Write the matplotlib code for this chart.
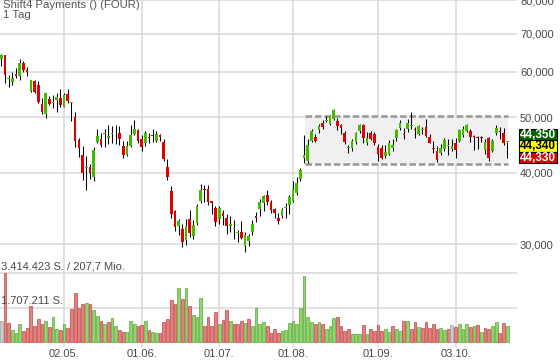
import matplotlib
matplotlib.use("Agg")
import matplotlib.pyplot as plt
import numpy as np
from matplotlib.ticker import FixedLocator, NullLocator
from matplotlib.patches import Rectangle

plt.rcParams['font.family'] = ['Liberation Sans', 'DejaVu Sans']
plt.rcParams['lines.scale_dashes'] = False

title = "Shift4 Payments () (FOUR)"
subtitle = "1 Tag"
date_labels = ["02.05.", "01.06.", "01.07.", "01.08.", "01.09.", "03.10."]
date_idx = [17, 38, 59, 79, 102, 123]
price_ticks = [30000, 40000, 50000, 60000, 70000, 80000]
price_tick_labels = ["30,000", "40,000", "50,000", "60,000", "70,000", "80,000"]

open_ = [63300, 64240, 58300, 57520, 59610, 58960, 62100, 60420, 55670, 57760,
         56820, 52740, 50760, 53750, 52890, 53600, 54040, 52160, 54990, 53050,
         50000, 45700, 42990, 40850, 40980, 39340, 45330, 45890, 46750, 45940,
         46750, 47350, 46970, 44590, 43040, 44600, 46780, 47410, 45830, 45010,
         46210, 46580, 45510, 46510, 45330, 40930, 37110, 34230, 32250, 31940,
         30500, 33230, 31030, 32730, 35770, 37370, 37520, 35660, 34660, 33190,
         34050, 33400, 32330, 31900, 31380, 31510, 29800, 30410, 31510, 33640,
         34510, 35480, 36510, 35620, 34510, 33400, 33640, 34720, 35090, 35770,
         36810, 38970, 42460, 41940, 45380, 46260, 47550, 48930, 49330, 48590,
         49590, 49330, 48450, 46970, 44100, 44180, 45200, 47220, 48390, 45010,
         46970, 46780, 44280, 44100, 42810, 43210, 44180, 45940, 47860, 46780,
         47610, 48190, 47610, 46830, 47550, 48000, 46130, 44100, 43690, 43390,
         43990, 44460, 43990, 45090, 45510, 46580, 47280, 47280, 46300, 46070,
         46130, 43870, 45940, 43690, 46890, 47220, 46970, 45300]
high = [64420, 64300, 59370, 59930, 61020, 63300, 62610, 61270, 58160, 58160,
        57850, 54110, 55220, 54480, 54700, 55080, 55990, 55220, 55990, 53170,
        51030, 46020, 44590, 42760, 41490, 44280, 47740, 46890, 47740, 48530,
        48190, 48390, 48190, 45380, 45380, 48530, 49530, 47740, 46640, 47220,
        46890, 47740, 47220, 46780, 45830, 42340, 37870, 34370, 33270, 32520,
        33270, 34420, 33050, 35230, 38180, 38130, 38130, 35700, 35040, 35040,
        34430, 33870, 33600, 33050, 31810, 32950, 31510, 31290, 33130, 34190,
        35960, 36610, 37260, 35870, 34760, 33960, 34760, 35380, 36610, 38650,
        39290, 40820, 46600, 45830, 47610, 46780, 48730, 49530, 50200, 50560,
        51660, 49940, 48730, 47220, 44770, 45830, 47080, 48730, 48730, 47080,
        47220, 47080, 44900, 44770, 44770, 45640, 45830, 47740, 49390, 47860,
        49730, 51100, 48060, 48390, 48060, 49730, 46780, 45510, 44460, 44900,
        45940, 45830, 45830, 46020, 47610, 48250, 48730, 47610, 46580, 46450,
        46450, 45830, 46130, 45830, 48390, 48060, 47860, 45350]
low = [61420, 57450, 56450, 56910, 58570, 57990, 59930, 59130, 55450, 55080,
       52890, 50620, 49860, 52460, 51810, 51100, 52030, 52030, 52890, 49330,
       44280, 42690, 38860, 37310, 39020, 38650, 45050, 44280, 44410, 44900,
       45010, 44900, 44720, 42510, 42810, 44410, 46580, 45090, 43690, 44590,
       45010, 45200, 45330, 45380, 41940, 38860, 33360, 31600, 31160, 29720,
       29920, 30870, 30580, 32460, 35380, 35620, 35140, 33820, 32250, 32600,
       32380, 31220, 31510, 30660, 30250, 30660, 29040, 29800, 31090, 32820,
       33600, 34330, 35140, 33960, 33400, 32520, 33360, 33400, 33820, 35520,
       36610, 38650, 41520, 41650, 45200, 45200, 46890, 47740, 49050, 48390,
       49390, 47550, 46780, 44900, 43280, 43690, 44900, 46970, 45090, 44720,
       45640, 44720, 41940, 42240, 42510, 42930, 43690, 45510, 47410, 45830,
       47040, 47610, 45940, 46640, 46780, 46130, 45090, 43390, 41770, 42930,
       43690, 42930, 43690, 42510, 45200, 46130, 47080, 45330, 43870, 43990,
       45200, 43100, 41940, 43510, 46640, 45830, 44720, 42510]
close = [64240, 59370, 58400, 58640, 59130, 62100, 60420, 60100, 57990, 55450,
         53230, 51030, 55080, 52740, 52960, 54260, 52520, 54770, 53450, 53100,
         45380, 44100, 39890, 40900, 39980, 43870, 46450, 44650, 46780, 46320,
         46780, 47220, 45750, 43040, 44590, 46640, 47740, 45510, 44410, 46970,
         46080, 46450, 46830, 46130, 42340, 39290, 33820, 32120, 32960, 30290,
         32290, 31380, 32420, 35040, 37380, 37260, 35620, 35370, 32820, 34760,
         33640, 32290, 32520, 32030, 31410, 30780, 31160, 31000, 32550, 33360,
         35620, 36360, 35520, 34430, 34050, 32910, 34370, 34760, 36210, 37520,
         38380, 40380, 42950, 44770, 47280, 45510, 48190, 48060, 49390, 50270,
         51390, 48190, 47860, 45330, 44180, 45380, 46890, 48530, 46020, 46080,
         45830, 45010, 43210, 42510, 43510, 45090, 44770, 47550, 48850, 46640,
         48850, 48250, 47470, 48190, 47610, 46450, 45150, 43990, 42060, 44100,
         45700, 44530, 44530, 43870, 47410, 47610, 48390, 46130, 46200, 45940,
         46020, 45330, 42510, 45510, 47860, 47080, 45010, 45330]
volume_mio = [1.03, 3.414423, 0.96, 0.62, 0.47, 0.88, 0.53, 0.72, 1.80, 0.80,
              1.16, 0.88, 1.06, 0.75, 1.25, 0.67, 0.58, 0.88, 0.72, 1.63,
              2.46, 1.70, 1.91, 1.93, 1.90, 1.61, 1.28, 1.06, 0.88, 0.98,
              1.20, 0.82, 0.62, 0.52, 0.48, 1.06, 0.90, 0.82, 0.85, 1.02,
              0.58, 0.52, 0.45, 0.47, 0.98, 1.16, 2.08, 1.88, 2.66, 2.13,
              2.70, 1.78, 1.36, 1.25, 2.21, 0.78, 1.26, 0.80, 1.50, 0.88,
              1.11, 1.61, 1.05, 0.87, 0.91, 1.05, 0.95, 1.13, 0.80, 1.71,
              0.91, 1.00, 0.78, 0.45, 0.67, 0.45, 0.53, 0.58, 0.95, 1.03,
              0.87, 1.71, 3.28, 1.25, 1.01, 0.87, 1.00, 0.88, 0.63, 0.78,
              1.21, 1.25, 0.82, 0.53, 0.65, 0.38, 0.38, 0.38, 0.83, 0.42,
              0.67, 0.53, 0.83, 0.53, 0.67, 0.52, 0.80, 0.65, 0.53, 1.05,
              1.03, 0.67, 0.98, 0.75, 0.70, 1.01, 0.72, 0.87, 0.63, 0.70,
              0.58, 0.67, 0.83, 0.73, 0.90, 0.63, 0.91, 0.77, 0.78, 0.85,
              0.52, 0.72, 0.65, 0.78, 1.01, 0.47, 0.93, 0.82]
vol_ticks = [1.707211, 3.414423]
vol_tick_labels = ["1.707.211 S.", "3.414.423 S. / 207,7 Mio."]
range_low, range_high = 41400, 50250
range_start, range_end = 82.2, 137.1
quote_labels = ["44,350", "44,340", "44,330"]

W, H = 560, 362
fig = plt.figure(figsize=(W / 100, H / 100), dpi=100)
fig.patch.set_facecolor('white')

plot_right = 517
ax = fig.add_axes([0, (H - 262) / H, plot_right / W, 262 / H])
axv = fig.add_axes([0, (H - 347) / H, plot_right / W, 85 / H], sharex=ax)

grid_c = '#d9d9d9'
text_c = '#4a4a4a'
n = len(close)
x = np.arange(n)
o = np.array(open_, float); c = np.array(close, float)
h = np.array(high, float); l = np.array(low, float)

for a in (ax, axv):
    for s in a.spines.values():
        s.set_visible(False)
    a.set_axisbelow(True)
    a.set_facecolor('none')

ax.set_yscale('log')
ax.set_ylim(27930, 80150)
ax.set_xlim(-0.352, 139.64)
ax.yaxis.set_major_locator(FixedLocator(price_ticks))
ax.yaxis.set_minor_locator(NullLocator())
ax.set_yticklabels(price_tick_labels)
ax.yaxis.tick_right()
ax.tick_params(axis='y', length=0, pad=2.2, labelsize=8, labelcolor=text_c)
ax.xaxis.set_major_locator(FixedLocator(date_idx))
ax.tick_params(axis='x', length=0, labelbottom=False)
ax.grid(True, color=grid_c, lw=1.1)

# range box
ax.add_patch(Rectangle((range_start, range_low), range_end - range_start,
                       range_high - range_low, facecolor='#f0f0f0',
                       edgecolor='none', zorder=1))
for yv in (range_low, range_high):
    ax.plot([range_start, range_end], [yv, yv], color='#969696', lw=1.8,
            dashes=(4.8, 2.0), zorder=2, solid_capstyle='butt',
            dash_capstyle='butt')

up = c >= o
col = np.where(up, '#44bb00', '#e00000')
ax.vlines(x, l, h, color='black', lw=0.75, zorder=3)
bottom = np.minimum(o, c)
height = np.maximum(np.abs(c - o), bottom * 0.004)
ax.bar(x, height, bottom=bottom, width=0.72, color=col, edgecolor='none',
       zorder=4)

# volume
v = np.array(volume_mio)
prev = np.r_[np.nan, c[:-1]]
vfill, vedge = [], []
for i in range(n):
    if i == 0 or c[i] == prev[i]:
        vfill.append('#cccccc'); vedge.append('#a0a0a0')
    elif c[i] > prev[i]:
        vfill.append('#93d270'); vedge.append('#58a834')
    else:
        vfill.append('#e38080'); vedge.append('#c04545')
axv.bar(x, v, width=0.74, color=vfill, edgecolor=vedge, lw=0.5, zorder=3)
axv.set_ylim(-0.2485, 3.976)
axv.yaxis.set_major_locator(FixedLocator(vol_ticks))
axv.tick_params(axis='y', length=0, labelleft=False, labelright=False)
axv.grid(True, axis='y', color=grid_c, lw=1.1)
axv.grid(True, axis='x', color=grid_c, lw=1.1)
axv.xaxis.set_major_locator(FixedLocator(date_idx))
axv.set_xticklabels(date_labels)
axv.tick_params(axis='x', length=0, pad=1.5, labelsize=8, labelcolor=text_c)
for yv, lab in zip(vol_ticks, vol_tick_labels):
    axv.annotate(lab, xy=(0, yv), xycoords=('axes fraction', 'data'),
                 xytext=(1, 1.5), textcoords='offset pixels', ha='left',
                 va='bottom', fontsize=8, color=text_c)

# title
fig.text(3 / W, 1 - 0.5 / H, title, ha='left', va='top', fontsize=8.2,
         color='#555555')
fig.text(3 / W, 1 - 10.5 / H, subtitle, ha='left', va='top', fontsize=8.2,
         color='#555555')

# quote boxes
axq = fig.add_axes([0, 0, 1, 1], zorder=10)
axq.set_xlim(0, W); axq.set_ylim(H, 0); axq.axis('off')
box_styles = [('#006400', 'white'), ('#ffff00', 'black'), ('#e00000', 'white')]
box_tops = [129.0, 140.3, 151.6]
for lab, (fc, tc), top in zip(quote_labels, box_styles, box_tops):
    axq.add_patch(Rectangle((518.5, top), 38.5, 11.3, facecolor=fc,
                            edgecolor='black', lw=0.8))
    axq.text(537.8, top + 6.0, lab, ha='center', va='center', fontsize=8.5,
             color=tc, fontweight='bold')

fig.savefig('out.png', dpi=100)
